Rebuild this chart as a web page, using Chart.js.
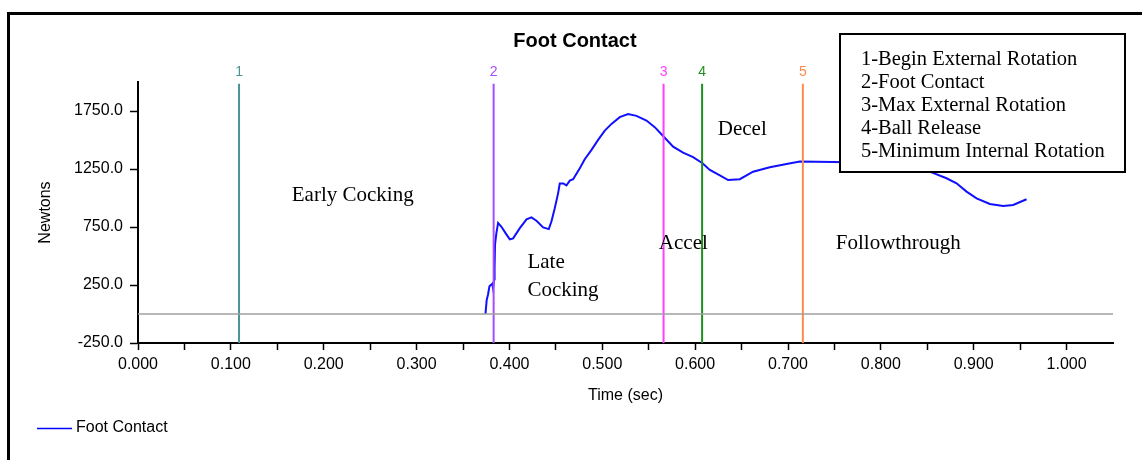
<!DOCTYPE html>
<html>
<head>
<meta charset="utf-8">
<title>Foot Contact</title>
<script src="https://cdn.jsdelivr.net/npm/chart.js@4"></script>
<style>
  html, body { margin: 0; padding: 0; background: #fff; }
  #wrap { width: 1142px; height: 460px; }
</style>
</head>
<body>
<div id="wrap"><canvas id="forceChart" width="1142" height="460"></canvas></div>
<script>
// force trace (sec, N)
const times = [0.3742, 0.3755, 0.3770, 0.3785, 0.3815, 0.3824, 0.3835, 0.3840, 0.3845, 0.3853,
    0.3860, 0.3878, 0.3914, 0.3960, 0.4004, 0.4040, 0.4110, 0.4184, 0.4237, 0.4291,
    0.4363, 0.4424, 0.4453, 0.4488, 0.4524, 0.4542, 0.4580, 0.4614, 0.4650, 0.4686,
    0.4758, 0.4811, 0.4884, 0.4955, 0.5027, 0.5099, 0.5188, 0.5278, 0.5368, 0.5476,
    0.5565, 0.5655, 0.5763, 0.5870, 0.5978, 0.6079, 0.6158, 0.6266, 0.6355, 0.6481,
    0.6624, 0.6804, 0.6984, 0.7127, 0.7486, 0.7800, 0.8000, 0.8200, 0.8400, 0.8527,
    0.8707, 0.8815, 0.8923, 0.9031, 0.9174, 0.9317, 0.9425, 0.9569];
const newtons = [0, 120, 170, 240, 262, 220, 300, 395, 600, 600,
    700, 785, 752, 695, 643, 652, 738, 816, 833, 804,
    747, 732, 800, 911, 1040, 1125, 1125, 1108, 1150, 1162,
    1257, 1334, 1415, 1501, 1581, 1639, 1697, 1723, 1708, 1668,
    1611, 1535, 1443, 1391, 1352, 1300, 1242, 1195, 1155, 1162,
    1227, 1265, 1294, 1314, 1311, 1305, 1290, 1270, 1245, 1227,
    1170, 1127, 1055, 997, 948, 931, 940, 989];

// event markers
const eventTimes = [0.1088, 0.383, 0.566, 0.6075, 0.716];
const eventLabels = ['1', '2', '3', '4', '5'];
const eventColors = ['#4a9494', '#a64dff', '#ff40ff', '#1f8f1f', '#ff8a4c'];
const eventNames = ['1-Begin External Rotation', '2-Foot Contact', '3-Max External Rotation',
    '4-Ball Release', '5-Minimum Internal Rotation'];

// phase names, anchored at (sec, N) of the text baseline start
const phaseNames = ['Early Cocking', 'Late', 'Cocking', 'Accel', 'Decel', 'Followthrough'];
const phaseAnchors = [[0.1656, 974], [0.4194, 396], [0.4194, 154], [0.5609, 560], [0.6244, 1544], [0.7515, 560]];

// axis ticks
const yTicks = [-250, 250, 750, 1250, 1750];
const xTicks = [];
for (let i = 0; i <= 20; i++) xTicks.push(+(i * 0.05).toFixed(2));

const SANS = "'Liberation Sans', Arial, sans-serif";
const SERIF = "'Liberation Serif', 'Times New Roman', serif";

const tracePoints = times.map((t, i) => ({ x: t, y: newtons[i] }));

const eventSets = eventTimes.map((t, i) => ({
    label: 'event ' + eventLabels[i],
    data: [{ x: t, y: -250 }, { x: t, y: 1985 }],
    borderColor: eventColors[i],
    borderWidth: 2,
    showLine: true,
    pointRadius: 0
}));

const decorations = {
    id: 'decorations',
    afterDraw(chart) {
        const ctx = chart.ctx;
        const xs = chart.scales.x;
        const ys = chart.scales.y;
        const area = chart.chartArea;
        ctx.save();

        // outer frame
        ctx.strokeStyle = '#000';
        ctx.lineWidth = 3;
        ctx.beginPath();
        ctx.moveTo(8.5, 470);
        ctx.lineTo(8.5, 13.5);
        ctx.lineTo(1150, 13.5);
        ctx.stroke();

        // title
        ctx.fillStyle = '#000';
        ctx.font = 'bold 20px ' + SANS;
        ctx.textAlign = 'center';
        ctx.textBaseline = 'middle';
        ctx.fillText('Foot Contact', 575, 41);

        // event numbers above the lines
        ctx.font = '14px ' + SANS;
        eventTimes.forEach((t, i) => {
            ctx.fillStyle = eventColors[i];
            ctx.fillText(eventLabels[i], xs.getPixelForValue(t), 72);
        });

        // axis titles
        ctx.fillStyle = '#000';
        ctx.font = '16px ' + SANS;
        ctx.fillText('Time (sec)', (area.left + area.right) / 2, 396);
        ctx.save();
        ctx.translate(46, (area.top + area.bottom) / 2);
        ctx.rotate(-Math.PI / 2);
        ctx.fillText('Newtons', 0, 0);
        ctx.restore();

        // phase names
        ctx.font = '21px ' + SERIF;
        ctx.textAlign = 'left';
        ctx.textBaseline = 'alphabetic';
        phaseNames.forEach((name, i) => {
            const [t, v] = phaseAnchors[i];
            ctx.fillText(name, xs.getPixelForValue(t), ys.getPixelForValue(v));
        });

        // event key box
        ctx.fillStyle = '#fff';
        ctx.fillRect(840, 34, 285, 138);
        ctx.strokeStyle = '#000';
        ctx.lineWidth = 2;
        ctx.strokeRect(840, 34, 285, 138);
        ctx.fillStyle = '#000';
        ctx.font = '20.5px ' + SERIF;
        eventNames.forEach((name, i) => {
            ctx.fillText(name, 861, 65 + i * 23);
        });

        // series key
        ctx.strokeStyle = '#0000ff';
        ctx.lineWidth = 1.5;
        ctx.beginPath();
        ctx.moveTo(37, 428.5);
        ctx.lineTo(72, 428.5);
        ctx.stroke();
        ctx.font = '16px ' + SANS;
        ctx.textBaseline = 'middle';
        ctx.fillText('Foot Contact', 76, 428);

        ctx.restore();
    }
};

new Chart(document.getElementById('forceChart'), {
    type: 'scatter',
    data: {
        datasets: [
            {
                label: 'zero',
                data: [{ x: 0, y: 0 }, { x: 1.05, y: 0 }],
                borderColor: '#a0a0a0',
                borderWidth: 1.5,
                showLine: true,
                pointRadius: 0
            },
            ...eventSets,
            {
                label: 'Foot Contact',
                data: tracePoints,
                borderColor: '#1010ff',
                borderWidth: 2,
                showLine: true,
                pointRadius: 0,
                tension: 0
            }
        ]
    },
    options: {
        responsive: false,
        animation: false,
        devicePixelRatio: 1,
        layout: { padding: { left: 0, top: 82, right: 29, bottom: 0 } },
        plugins: {
            legend: { display: false },
            title: { display: false },
            tooltip: { enabled: false }
        },
        scales: {
            x: {
                type: 'linear',
                min: 0,
                max: 1.05,
                afterBuildTicks(scale) { scale.ticks = xTicks.map(v => ({ value: v })); },
                afterFit(scale) { scale.height = 117; },
                grid: { drawOnChartArea: false, drawTicks: true, tickLength: 7, tickColor: '#000', tickWidth: 1.5 },
                border: { color: '#000', width: 2 },
                ticks: {
                    color: '#000',
                    font: { family: SANS, size: 16 },
                    padding: 5,
                    maxRotation: 0,
                    autoSkip: false,
                    callback: (v, i) => (i % 2 === 0 ? v.toFixed(3) : '')
                }
            },
            y: {
                type: 'linear',
                min: -250,
                max: 2000,
                afterBuildTicks(scale) { scale.ticks = yTicks.map(v => ({ value: v })); },
                afterFit(scale) { scale.width = 138; },
                grid: { drawOnChartArea: false, drawTicks: true, tickLength: 8, tickColor: '#000', tickWidth: 1.5 },
                border: { color: '#000', width: 2 },
                ticks: {
                    color: '#000',
                    font: { family: SANS, size: 16 },
                    padding: 7,
                    callback: v => v.toFixed(1)
                }
            }
        }
    },
    plugins: [decorations]
});
</script>
</body>
</html>
